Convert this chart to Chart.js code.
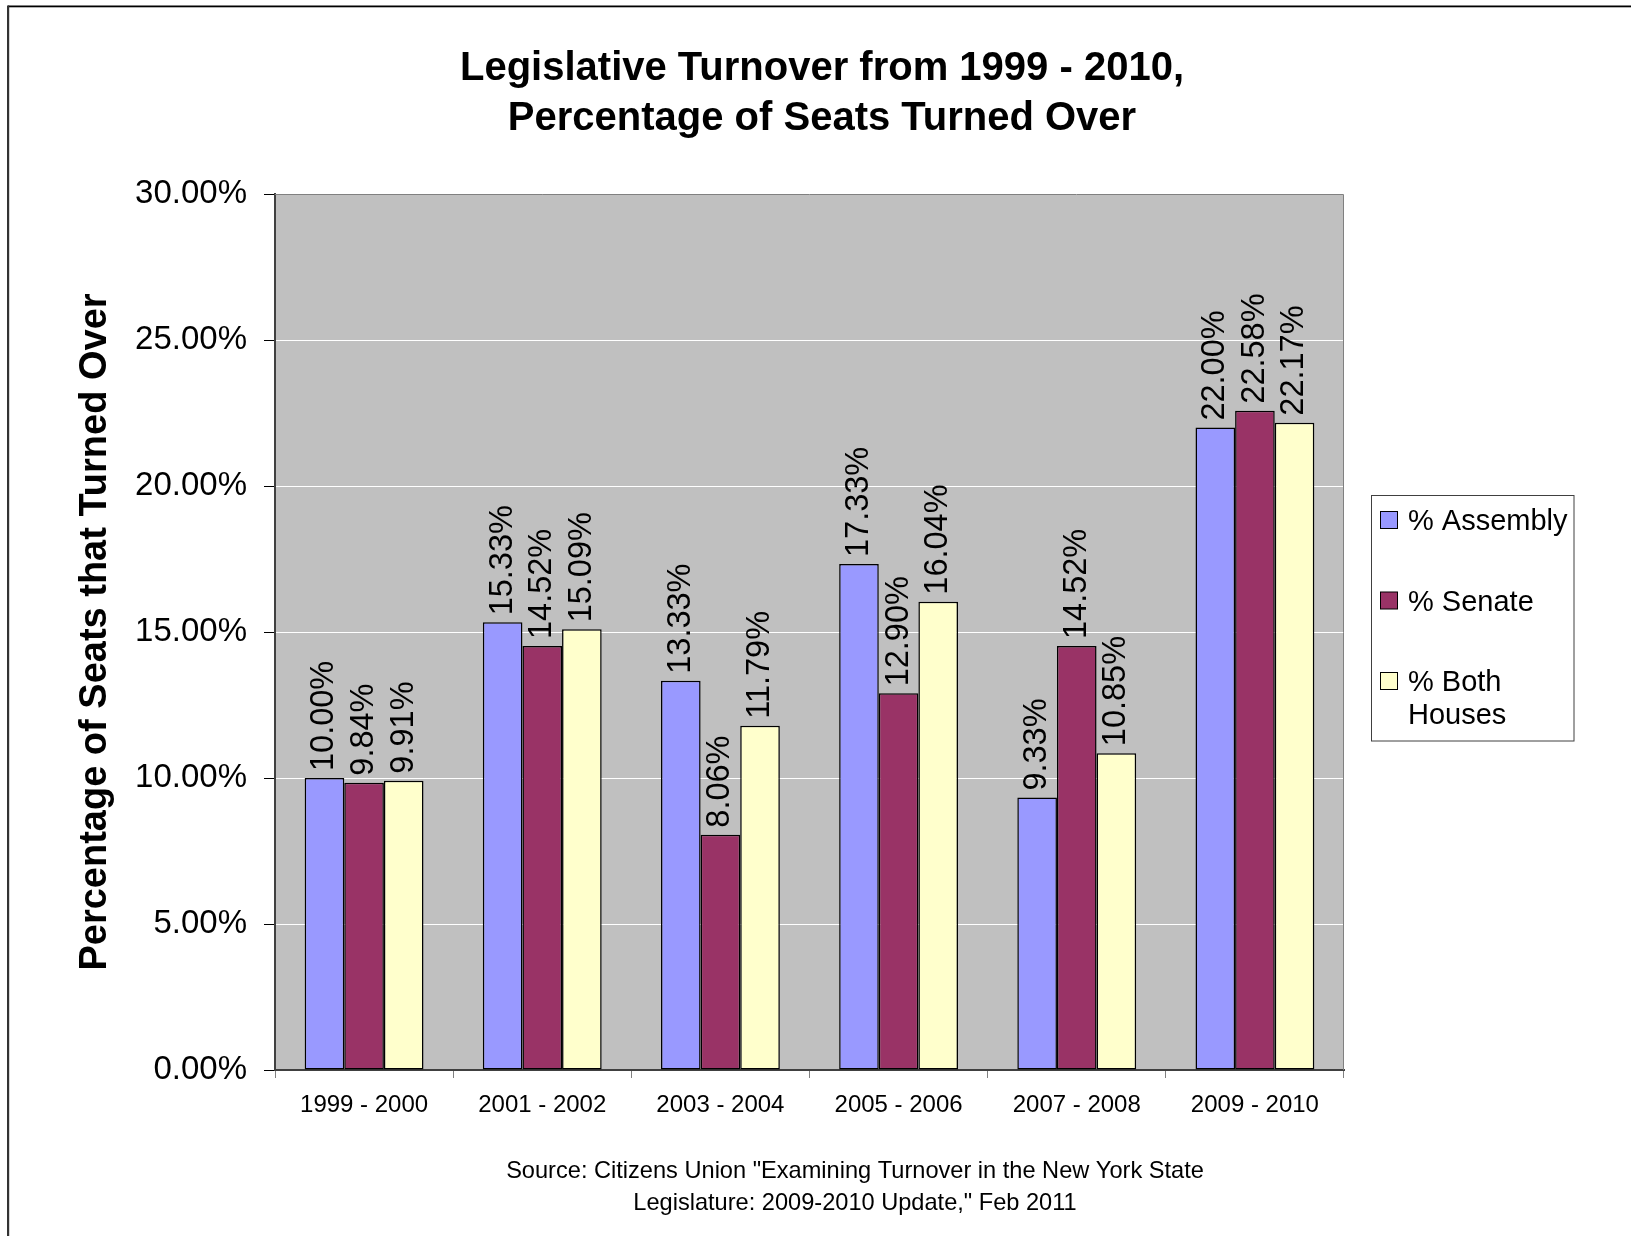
<!DOCTYPE html>
<html>
<head>
<meta charset="utf-8">
<title>Legislative Turnover</title>
<script src="https://cdn.jsdelivr.net/npm/chart.js@4.4.1/dist/chart.umd.min.js"></script>
<style>
  html, body { margin: 0; padding: 0; background: #fff; }
  #wrap { width: 1631px; height: 1236px; }
</style>
</head>
<body>
<div id="wrap"><canvas id="turnoverChart" width="1631" height="1236"></canvas></div>
<script>
const FONT = '"Liberation Sans", Arial, Helvetica, sans-serif';

const sessions = ['1999 - 2000', '2001 - 2002', '2003 - 2004', '2005 - 2006', '2007 - 2008', '2009 - 2010'];
const assembly = [10.00, 15.33, 13.33, 17.33, 9.33, 22.00];
const senate = [9.84, 14.52, 8.06, 12.90, 14.52, 22.58];
const bothHouses = [9.91, 15.09, 11.79, 16.04, 10.85, 22.17];
const yTicks = [0, 5, 10, 15, 20, 25, 30];

const titleLines = ['Legislative Turnover from 1999 - 2010,', 'Percentage of Seats Turned Over'];
const yTitle = 'Percentage of Seats that Turned Over';
const sourceLines = ['Source: Citizens Union "Examining Turnover in the New York State',
                     'Legislature: 2009-2010 Update," Feb 2011'];

const pct = v => v.toFixed(2) + '%';

// plot background, frame, titles, legend and source note
const decorations = {
    id: 'decorations',
    beforeDraw(chart) {
        const { ctx, chartArea: a } = chart;
        ctx.save();
        ctx.fillStyle = '#fff';
        ctx.fillRect(0, 0, chart.width, chart.height);
        ctx.fillStyle = '#c0c0c0';
        ctx.fillRect(a.left, a.top, a.right - a.left, a.bottom - a.top);
        ctx.restore();
    },
    afterDraw(chart) {
        const { ctx, chartArea: a } = chart;
        ctx.save();

        // top / right edge of plot area
        ctx.strokeStyle = '#808080';
        ctx.lineWidth = 1;
        ctx.beginPath();
        ctx.moveTo(a.left, a.top + 0.5);
        ctx.lineTo(a.right - 0.5, a.top + 0.5);
        ctx.lineTo(a.right - 0.5, a.bottom);
        ctx.stroke();

        // outer frame (top and left only)
        ctx.fillStyle = '#000';
        ctx.fillRect(8, 5.5, chart.width - 8, 1.8);
        ctx.fillStyle = '#333';
        ctx.fillRect(7, 5.5, 2.2, chart.height);

        ctx.fillStyle = '#000';
        ctx.textAlign = 'center';
        ctx.textBaseline = 'alphabetic';
        ctx.font = 'bold 40px ' + FONT;
        ctx.fillText(titleLines[0], 822, 80);
        ctx.fillText(titleLines[1], 822, 130);

        // y axis title
        ctx.save();
        ctx.translate(96, (a.top + a.bottom) / 2);
        ctx.rotate(-Math.PI / 2);
        ctx.textBaseline = 'middle';
        ctx.font = 'bold 38px ' + FONT;
        ctx.fillText(yTitle, 0, 0);
        ctx.restore();

        // source note
        ctx.font = '23.6px ' + FONT;
        ctx.textBaseline = 'middle';
        ctx.fillText(sourceLines[0], 855, 1171);
        ctx.fillText(sourceLines[1], 855, 1203);

        // legend
        const lx = 1371.5, ly = 495.5, lw = 202.5, lh = 245.5;
        ctx.fillStyle = '#fff';
        ctx.fillRect(lx, ly, lw, lh);
        ctx.strokeStyle = '#404040';
        ctx.lineWidth = 1;
        ctx.strokeRect(lx, ly, lw, lh);

        ctx.font = '29px ' + FONT;
        ctx.textAlign = 'left';
        ctx.textBaseline = 'alphabetic';
        chart.data.datasets.forEach((ds, i) => {
            const base = 530 + i * 80.5;
            ctx.fillStyle = ds.backgroundColor;
            ctx.fillRect(1380.5, base - 18.5, 17, 17);
            ctx.strokeStyle = '#000';
            ctx.strokeRect(1380.5, base - 18.5, 17, 17);

            // wrap label words into the legend box
            const words = ds.label.split(' ');
            const lines = [];
            let cur = '';
            words.forEach(w => {
                const next = cur ? cur + ' ' + w : w;
                if (cur && ctx.measureText(next).width > 165) {
                    lines.push(cur);
                    cur = w;
                } else {
                    cur = next;
                }
            });
            lines.push(cur);
            ctx.fillStyle = '#000';
            lines.forEach((t, j) => ctx.fillText(t, 1408, base + j * 32.6));
        });

        ctx.restore();
    }
};

// rotated value labels above each bar
const barValues = {
    id: 'barValues',
    afterDatasetsDraw(chart) {
        const { ctx } = chart;
        ctx.save();
        ctx.fillStyle = '#000';
        ctx.font = '32.5px ' + FONT;
        ctx.textAlign = 'left';
        ctx.textBaseline = 'middle';
        chart.data.datasets.forEach((ds, i) => {
            chart.getDatasetMeta(i).data.forEach((bar, j) => {
                ctx.save();
                ctx.translate(bar.x, bar.y - 7);
                ctx.rotate(-Math.PI / 2);
                ctx.fillText(pct(ds.data[j]), 0, 0);
                ctx.restore();
            });
        });
        ctx.restore();
    }
};

const barStyle = {
    borderColor: '#000',
    borderWidth: 1.5,
    borderSkipped: false,
    categoryPercentage: 0.667,
    barPercentage: 1.0
};

new Chart(document.getElementById('turnoverChart'), {
    type: 'bar',
    data: {
        labels: sessions,
        datasets: [
            { label: '% Assembly', data: assembly, backgroundColor: '#9999ff', ...barStyle },
            { label: '% Senate', data: senate, backgroundColor: '#993366', ...barStyle },
            { label: '% Both Houses', data: bothHouses, backgroundColor: '#ffffcc', ...barStyle }
        ]
    },
    options: {
        responsive: false,
        animation: false,
        devicePixelRatio: 1,
        layout: { padding: { top: 194, right: 287, left: 0, bottom: 0 } },
        plugins: {
            legend: { display: false },
            title: { display: false },
            tooltip: { enabled: false }
        },
        scales: {
            x: {
                ticks: { color: '#000', font: { family: FONT, size: 24 }, padding: 13 },
                grid: { drawOnChartArea: false, color: '#808080', tickLength: 8, offset: true },
                border: { color: '#404040', width: 2 },
                afterFit(scale) { scale.height = 166; }
            },
            y: {
                min: 0,
                max: 30,
                afterBuildTicks(scale) { scale.ticks = yTicks.map(v => ({ value: v })); },
                ticks: {
                    color: '#000',
                    font: { family: FONT, size: 33 },
                    padding: 17,
                    callback: v => pct(v)
                },
                grid: { color: '#ffffff', lineWidth: 1, tickColor: '#000', tickLength: 11 },
                border: { color: '#404040', width: 2 },
                afterFit(scale) { scale.width = 275; }
            }
        }
    },
    plugins: [decorations, barValues]
});
</script>
</body>
</html>
